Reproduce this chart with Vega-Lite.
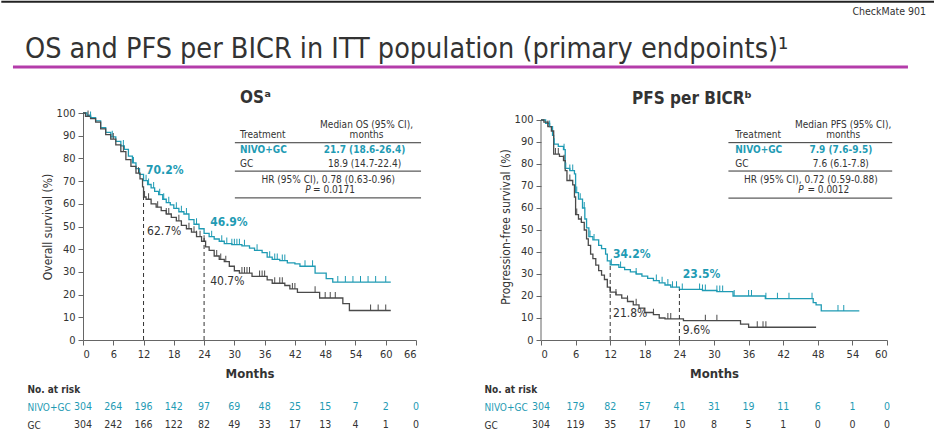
{
  "$schema": "https://vega.github.io/schema/vega-lite/v6.json",
  "padding": 0,
  "spacing": 18,
  "config": {
    "font": "DejaVu Sans Condensed, Open Sans, sans-serif",
    "view": {"stroke": null},
    "axis": {"grid": false, "domainColor": "#666", "tickColor": "#666", "labelColor": "#333", "titleColor": "#333", "labelFontSize": 11, "tickSize": 5, "labelPadding": 3, "titleFontSize": 12, "titleFontWeight": "normal"},
    "axisX": {"titleFontWeight": "bold", "titleFontSize": 13, "labelAngle": 0},
    "title": {"fontSize": 17, "fontWeight": "bold", "color": "#333"}
  },
  "datasets": {
    "osCurve": [
      {"g":"NIVO+GC","m":0,"v":100},{"g":"NIVO+GC","m":0.8,"v":99},{"g":"NIVO+GC","m":1.5,"v":98},{"g":"NIVO+GC","m":2.5,"v":96.5},{"g":"NIVO+GC","m":3.5,"v":93.5},{"g":"NIVO+GC","m":4.5,"v":91.5},{"g":"NIVO+GC","m":5.5,"v":89.5},{"g":"NIVO+GC","m":6.5,"v":87.5},{"g":"NIVO+GC","m":7.5,"v":85.5},{"g":"NIVO+GC","m":8.2,"v":84},{"g":"NIVO+GC","m":9,"v":81},{"g":"NIVO+GC","m":9.8,"v":78},{"g":"NIVO+GC","m":10.5,"v":75.5},{"g":"NIVO+GC","m":11.2,"v":73},{"g":"NIVO+GC","m":12,"v":70.2},{"g":"NIVO+GC","m":12.8,"v":68.5},{"g":"NIVO+GC","m":13.5,"v":67},{"g":"NIVO+GC","m":14.2,"v":65.5},{"g":"NIVO+GC","m":15,"v":64},{"g":"NIVO+GC","m":15.8,"v":62},{"g":"NIVO+GC","m":16.5,"v":60.5},{"g":"NIVO+GC","m":17.3,"v":59.5},{"g":"NIVO+GC","m":18,"v":58},{"g":"NIVO+GC","m":19,"v":56.5},{"g":"NIVO+GC","m":20,"v":55.5},{"g":"NIVO+GC","m":21,"v":53},{"g":"NIVO+GC","m":22,"v":51},{"g":"NIVO+GC","m":23,"v":49},{"g":"NIVO+GC","m":24,"v":47},{"g":"NIVO+GC","m":25,"v":45.5},{"g":"NIVO+GC","m":26,"v":44.5},{"g":"NIVO+GC","m":27,"v":43.5},{"g":"NIVO+GC","m":28,"v":42.5},{"g":"NIVO+GC","m":29.5,"v":42},{"g":"NIVO+GC","m":31.5,"v":41.5},{"g":"NIVO+GC","m":33,"v":40.5},{"g":"NIVO+GC","m":34,"v":39.5},{"g":"NIVO+GC","m":35.5,"v":38.5},{"g":"NIVO+GC","m":36.5,"v":36.5},{"g":"NIVO+GC","m":37.5,"v":35.5},{"g":"NIVO+GC","m":39,"v":35},{"g":"NIVO+GC","m":40.5,"v":34},{"g":"NIVO+GC","m":42,"v":33.5},{"g":"NIVO+GC","m":43,"v":32.5},{"g":"NIVO+GC","m":46,"v":29.5},{"g":"NIVO+GC","m":48.2,"v":27},{"g":"NIVO+GC","m":49.5,"v":25.5},{"g":"NIVO+GC","m":61,"v":25.5},
      {"g":"GC","m":0,"v":100},{"g":"GC","m":0.5,"v":98.5},{"g":"GC","m":1.5,"v":97.5},{"g":"GC","m":2.5,"v":96},{"g":"GC","m":3.5,"v":93},{"g":"GC","m":4.5,"v":90.5},{"g":"GC","m":5.5,"v":88.5},{"g":"GC","m":6.5,"v":86},{"g":"GC","m":7.5,"v":83},{"g":"GC","m":8.5,"v":79.5},{"g":"GC","m":9.5,"v":76.5},{"g":"GC","m":10.5,"v":73.5},{"g":"GC","m":11.3,"v":71},{"g":"GC","m":11.8,"v":67.5},{"g":"GC","m":12,"v":63},{"g":"GC","m":12.5,"v":62},{"g":"GC","m":13.5,"v":60},{"g":"GC","m":14.5,"v":58.5},{"g":"GC","m":15.5,"v":57},{"g":"GC","m":16.5,"v":55.5},{"g":"GC","m":17.5,"v":54},{"g":"GC","m":18.5,"v":52.5},{"g":"GC","m":19.5,"v":50.5},{"g":"GC","m":20.5,"v":49},{"g":"GC","m":21.5,"v":47.5},{"g":"GC","m":22.5,"v":45.5},{"g":"GC","m":23.5,"v":43.5},{"g":"GC","m":24.3,"v":41},{"g":"GC","m":25,"v":39.5},{"g":"GC","m":26,"v":37},{"g":"GC","m":27,"v":35.5},{"g":"GC","m":28,"v":34.5},{"g":"GC","m":29,"v":32.5},{"g":"GC","m":30,"v":30.5},{"g":"GC","m":31,"v":29.5},{"g":"GC","m":33.5,"v":28},{"g":"GC","m":36.5,"v":26.5},{"g":"GC","m":37.5,"v":25},{"g":"GC","m":40,"v":24},{"g":"GC","m":41,"v":22.5},{"g":"GC","m":42.5,"v":21},{"g":"GC","m":46.9,"v":18.5},{"g":"GC","m":51.5,"v":16},{"g":"GC","m":52.8,"v":13},{"g":"GC","m":61,"v":13}
    ],
    "osCens": [
      {"g":"NIVO+GC","m":1.5,"v":98},{"g":"NIVO+GC","m":5.8,"v":89.5},{"g":"NIVO+GC","m":8,"v":85.5},{"g":"NIVO+GC","m":10,"v":78},{"g":"NIVO+GC","m":12.5,"v":70.2},{"g":"NIVO+GC","m":13,"v":68.5},{"g":"NIVO+GC","m":14,"v":67},{"g":"NIVO+GC","m":15.2,"v":64},{"g":"NIVO+GC","m":16,"v":62},{"g":"NIVO+GC","m":17,"v":60.5},{"g":"NIVO+GC","m":18.5,"v":58},{"g":"NIVO+GC","m":19.5,"v":56.5},{"g":"NIVO+GC","m":20.5,"v":55.5},{"g":"NIVO+GC","m":22.5,"v":51},{"g":"NIVO+GC","m":25.5,"v":45.5},{"g":"NIVO+GC","m":27.5,"v":43.5},{"g":"NIVO+GC","m":28.5,"v":42.5},{"g":"NIVO+GC","m":29.5,"v":42},{"g":"NIVO+GC","m":30,"v":42},{"g":"NIVO+GC","m":30.5,"v":42},{"g":"NIVO+GC","m":31,"v":42},{"g":"NIVO+GC","m":32,"v":41.5},{"g":"NIVO+GC","m":34.5,"v":39.5},{"g":"NIVO+GC","m":37,"v":36.5},{"g":"NIVO+GC","m":38,"v":35.5},{"g":"NIVO+GC","m":38.5,"v":35.5},{"g":"NIVO+GC","m":39.5,"v":35},{"g":"NIVO+GC","m":40,"v":35},{"g":"NIVO+GC","m":44,"v":32.5},{"g":"NIVO+GC","m":45.5,"v":32.5},{"g":"NIVO+GC","m":50.5,"v":25.5},{"g":"NIVO+GC","m":52,"v":25.5},{"g":"NIVO+GC","m":53.5,"v":25.5},{"g":"NIVO+GC","m":55,"v":25.5},{"g":"NIVO+GC","m":56.5,"v":25.5},{"g":"NIVO+GC","m":58,"v":25.5},{"g":"NIVO+GC","m":60,"v":25.5},
      {"g":"GC","m":1,"v":98.5},{"g":"GC","m":6,"v":88.5},{"g":"GC","m":8,"v":83},{"g":"GC","m":11,"v":73.5},{"g":"GC","m":12.2,"v":63},{"g":"GC","m":13,"v":62},{"g":"GC","m":14.8,"v":58.5},{"g":"GC","m":16.5,"v":55.5},{"g":"GC","m":17,"v":55.5},{"g":"GC","m":19,"v":52.5},{"g":"GC","m":21,"v":49},{"g":"GC","m":22,"v":47.5},{"g":"GC","m":22.5,"v":45.5},{"g":"GC","m":23.2,"v":45.5},{"g":"GC","m":24,"v":43.5},{"g":"GC","m":26.5,"v":37},{"g":"GC","m":27.3,"v":35.5},{"g":"GC","m":28.3,"v":34.5},{"g":"GC","m":31.5,"v":29.5},{"g":"GC","m":32,"v":29.5},{"g":"GC","m":32.5,"v":29.5},{"g":"GC","m":33,"v":29.5},{"g":"GC","m":35,"v":28},{"g":"GC","m":35.5,"v":28},{"g":"GC","m":36,"v":28},{"g":"GC","m":38,"v":25},{"g":"GC","m":39,"v":25},{"g":"GC","m":39.5,"v":25},{"g":"GC","m":41.5,"v":22.5},{"g":"GC","m":42,"v":22.5},{"g":"GC","m":46,"v":21},{"g":"GC","m":48,"v":18.5},{"g":"GC","m":49,"v":18.5},{"g":"GC","m":50,"v":18.5},{"g":"GC","m":57,"v":13},{"g":"GC","m":58.5,"v":13},{"g":"GC","m":60,"v":13}
    ],
    "pfsCurve": [
      {"g":"NIVO+GC","m":0,"v":100},{"g":"NIVO+GC","m":0.8,"v":98.5},{"g":"NIVO+GC","m":1.5,"v":97},{"g":"NIVO+GC","m":2,"v":93},{"g":"NIVO+GC","m":2.2,"v":89},{"g":"NIVO+GC","m":3,"v":88},{"g":"NIVO+GC","m":3.9,"v":86.5},{"g":"NIVO+GC","m":4.2,"v":78},{"g":"NIVO+GC","m":5,"v":77},{"g":"NIVO+GC","m":5.8,"v":75.5},{"g":"NIVO+GC","m":6,"v":67},{"g":"NIVO+GC","m":6.5,"v":64},{"g":"NIVO+GC","m":7.2,"v":60},{"g":"NIVO+GC","m":7.6,"v":55},{"g":"NIVO+GC","m":7.9,"v":51},{"g":"NIVO+GC","m":8.3,"v":47},{"g":"NIVO+GC","m":9,"v":45.5},{"g":"NIVO+GC","m":10,"v":43},{"g":"NIVO+GC","m":10.5,"v":41.5},{"g":"NIVO+GC","m":11.2,"v":39},{"g":"NIVO+GC","m":11.5,"v":36},{"g":"NIVO+GC","m":12,"v":34.2},{"g":"NIVO+GC","m":13.5,"v":33},{"g":"NIVO+GC","m":14.5,"v":32},{"g":"NIVO+GC","m":15.5,"v":31},{"g":"NIVO+GC","m":16.5,"v":30},{"g":"NIVO+GC","m":17.5,"v":29},{"g":"NIVO+GC","m":18.5,"v":28},{"g":"NIVO+GC","m":19.5,"v":27},{"g":"NIVO+GC","m":20.5,"v":26},{"g":"NIVO+GC","m":21.5,"v":25},{"g":"NIVO+GC","m":22.5,"v":24},{"g":"NIVO+GC","m":24,"v":23},{"g":"NIVO+GC","m":28,"v":22.5},{"g":"NIVO+GC","m":30.5,"v":22},{"g":"NIVO+GC","m":33.3,"v":20},{"g":"NIVO+GC","m":38.9,"v":18.8},{"g":"NIVO+GC","m":47.2,"v":17},{"g":"NIVO+GC","m":47.7,"v":16},{"g":"NIVO+GC","m":48.6,"v":13.2},{"g":"NIVO+GC","m":55.2,"v":13.2},
      {"g":"GC","m":0,"v":100},{"g":"GC","m":0.5,"v":99},{"g":"GC","m":1.2,"v":97},{"g":"GC","m":1.8,"v":95},{"g":"GC","m":2.2,"v":84.5},{"g":"GC","m":3.2,"v":83.5},{"g":"GC","m":3.9,"v":81.5},{"g":"GC","m":4.2,"v":77},{"g":"GC","m":4.5,"v":72.5},{"g":"GC","m":5.5,"v":70.5},{"g":"GC","m":5.8,"v":65},{"g":"GC","m":6,"v":57},{"g":"GC","m":6.5,"v":55},{"g":"GC","m":7,"v":53.5},{"g":"GC","m":7.5,"v":50},{"g":"GC","m":7.9,"v":46},{"g":"GC","m":8.2,"v":43},{"g":"GC","m":8.6,"v":39},{"g":"GC","m":9,"v":37},{"g":"GC","m":9.5,"v":34},{"g":"GC","m":10,"v":31.5},{"g":"GC","m":10.5,"v":29.5},{"g":"GC","m":11,"v":27.5},{"g":"GC","m":11.5,"v":24},{"g":"GC","m":12,"v":21.8},{"g":"GC","m":13,"v":20.5},{"g":"GC","m":14,"v":19},{"g":"GC","m":15,"v":17.5},{"g":"GC","m":16,"v":16},{"g":"GC","m":17,"v":14.5},{"g":"GC","m":18,"v":12.5},{"g":"GC","m":19.5,"v":11.5},{"g":"GC","m":20.5,"v":10},{"g":"GC","m":21.5,"v":9.6},{"g":"GC","m":24.7,"v":8.8},{"g":"GC","m":34.6,"v":7.2},{"g":"GC","m":36,"v":5.8},{"g":"GC","m":47.7,"v":5.8}
    ],
    "pfsCens": [
      {"g":"NIVO+GC","m":1.5,"v":97},{"g":"NIVO+GC","m":2.3,"v":89},{"g":"NIVO+GC","m":4,"v":86.5},{"g":"NIVO+GC","m":4.3,"v":78},{"g":"NIVO+GC","m":5,"v":77},{"g":"NIVO+GC","m":5.5,"v":77},{"g":"NIVO+GC","m":6.2,"v":67},{"g":"NIVO+GC","m":6.8,"v":64},{"g":"NIVO+GC","m":7.5,"v":60},{"g":"NIVO+GC","m":8.5,"v":47},{"g":"NIVO+GC","m":9.2,"v":45.5},{"g":"NIVO+GC","m":12.2,"v":34.2},{"g":"NIVO+GC","m":13.8,"v":33},{"g":"NIVO+GC","m":16.5,"v":30},{"g":"NIVO+GC","m":20,"v":27},{"g":"NIVO+GC","m":21,"v":26},{"g":"NIVO+GC","m":22,"v":25},{"g":"NIVO+GC","m":22.8,"v":24},{"g":"NIVO+GC","m":23.5,"v":24},{"g":"NIVO+GC","m":24.5,"v":23},{"g":"NIVO+GC","m":27.5,"v":23},{"g":"NIVO+GC","m":28,"v":22.5},{"g":"NIVO+GC","m":28.5,"v":22.5},{"g":"NIVO+GC","m":30.5,"v":22},{"g":"NIVO+GC","m":31,"v":22},{"g":"NIVO+GC","m":31.5,"v":22},{"g":"NIVO+GC","m":33.5,"v":20},{"g":"NIVO+GC","m":36,"v":20},{"g":"NIVO+GC","m":36.5,"v":20},{"g":"NIVO+GC","m":39,"v":18.8},{"g":"NIVO+GC","m":41,"v":18.8},{"g":"NIVO+GC","m":43,"v":18.8},{"g":"NIVO+GC","m":47,"v":18.8},{"g":"NIVO+GC","m":51.5,"v":13.2},{"g":"NIVO+GC","m":52.5,"v":13.2},
      {"g":"GC","m":1.2,"v":97},{"g":"GC","m":2.5,"v":84.5},{"g":"GC","m":3,"v":84.5},{"g":"GC","m":4,"v":81.5},{"g":"GC","m":5,"v":72.5},{"g":"GC","m":6.2,"v":57},{"g":"GC","m":7,"v":53.5},{"g":"GC","m":13,"v":20.5},{"g":"GC","m":15,"v":17.5},{"g":"GC","m":16.5,"v":16},{"g":"GC","m":19.5,"v":11.5},{"g":"GC","m":22,"v":9.6},{"g":"GC","m":22.5,"v":9.6},{"g":"GC","m":28.5,"v":8.8},{"g":"GC","m":30.5,"v":8.8},{"g":"GC","m":37.5,"v":5.8},{"g":"GC","m":38.5,"v":5.8},{"g":"GC","m":39,"v":5.8}
    ],
    "osRisk": [
      {"g":"NIVO+GC","m":0,"n":304},{"g":"NIVO+GC","m":6,"n":264},{"g":"NIVO+GC","m":12,"n":196},{"g":"NIVO+GC","m":18,"n":142},{"g":"NIVO+GC","m":24,"n":97},{"g":"NIVO+GC","m":30,"n":69},{"g":"NIVO+GC","m":36,"n":48},{"g":"NIVO+GC","m":42,"n":25},{"g":"NIVO+GC","m":48,"n":15},{"g":"NIVO+GC","m":54,"n":7},{"g":"NIVO+GC","m":60,"n":2},{"g":"NIVO+GC","m":66,"n":0},
      {"g":"GC","m":0,"n":304},{"g":"GC","m":6,"n":242},{"g":"GC","m":12,"n":166},{"g":"GC","m":18,"n":122},{"g":"GC","m":24,"n":82},{"g":"GC","m":30,"n":49},{"g":"GC","m":36,"n":33},{"g":"GC","m":42,"n":17},{"g":"GC","m":48,"n":13},{"g":"GC","m":54,"n":4},{"g":"GC","m":60,"n":1},{"g":"GC","m":66,"n":0}
    ],
    "pfsRisk": [
      {"g":"NIVO+GC","m":0,"n":304},{"g":"NIVO+GC","m":6,"n":179},{"g":"NIVO+GC","m":12,"n":82},{"g":"NIVO+GC","m":18,"n":57},{"g":"NIVO+GC","m":24,"n":41},{"g":"NIVO+GC","m":30,"n":31},{"g":"NIVO+GC","m":36,"n":19},{"g":"NIVO+GC","m":42,"n":11},{"g":"NIVO+GC","m":48,"n":6},{"g":"NIVO+GC","m":54,"n":1},{"g":"NIVO+GC","m":60,"n":0},
      {"g":"GC","m":0,"n":304},{"g":"GC","m":6,"n":119},{"g":"GC","m":12,"n":35},{"g":"GC","m":18,"n":17},{"g":"GC","m":24,"n":10},{"g":"GC","m":30,"n":8},{"g":"GC","m":36,"n":5},{"g":"GC","m":42,"n":1},{"g":"GC","m":48,"n":0},{"g":"GC","m":54,"n":0},{"g":"GC","m":60,"n":0}
    ]
  },
  "vconcat": [
    {
      "width": 851,
      "height": 70,
      "encoding": {
        "x": {"field": "x", "type": "quantitative", "scale": {"domain": [0, 1], "nice": false}, "axis": null},
        "y": {"field": "y", "type": "quantitative", "scale": {"domain": [0, 1], "nice": false, "reverse": true}, "axis": null}
      },
      "layer": [
        {"data": {"values": [{"x": -0.096, "x2": 1.0, "y": 0.012}]}, "mark": {"type": "rule", "color": "#222", "strokeWidth": 2}, "encoding": {"x2": {"field": "x2"}}},
        {"data": {"values": [{"x": -0.0823, "x2": 0.9694, "y": 0.943}]}, "mark": {"type": "rule", "color": "#b43caa", "strokeWidth": 3}, "encoding": {"x2": {"field": "x2"}}},
        {"data": {"values": [{"x": 0.9906, "y": 0.2, "t": "CheckMate 901"}]}, "mark": {"type": "text", "align": "right", "baseline": "alphabetic", "fontSize": 10.5, "color": "#333"}, "encoding": {"text": {"field": "t"}}},
        {"data": {"values": [{"x": -0.0682, "y": 0.814, "t": "OS and PFS per BICR in ITT population (primary endpoints)¹"}]}, "mark": {"type": "text", "align": "left", "baseline": "alphabetic", "fontSize": 28.5, "color": "#333"}, "encoding": {"text": {"field": "t"}}}
      ]
    },
    {
      "spacing": 62,
      "hconcat": [
        {
          "spacing": 0,
          "vconcat": [
            {
              "width": 333,
              "height": 227,
              "title": {"text": "OSᵃ", "offset": 0, "dx": 6},
              "encoding": {
                "x": {"field": "m", "type": "quantitative", "scale": {"domain": [0, 66], "nice": false, "zero": false}, "axis": {"values": [0,6,12,18,24,30,36,42,48,54,60,66], "title": "Months", "titlePadding": 8}},
                "y": {"field": "v", "type": "quantitative", "scale": {"domain": [0, 100], "nice": false}, "axis": {"values": [0,10,20,30,40,50,60,70,80,90,100], "title": "Overall survival (%)", "titlePadding": 2}}
              },
              "layer": [
                {"data": {"name": "osCurve"}, "mark": {"type": "line", "interpolate": "step-after", "strokeWidth": 1.3}, "encoding": {"color": {"field": "g", "type": "nominal", "scale": {"domain": ["NIVO+GC", "GC"], "range": ["#1f9bb4", "#4a4a4a"]}, "legend": null}}},
                {"data": {"name": "osCens"}, "mark": {"type": "tick", "orient": "vertical", "size": 6, "thickness": 1, "opacity": 1, "yOffset": -3}, "encoding": {"color": {"field": "g", "type": "nominal", "scale": {"domain": ["NIVO+GC", "GC"], "range": ["#1f9bb4", "#4a4a4a"]}, "legend": null}}},
                {"data": {"values": [{"m": 12, "v": 0, "v2": 63}, {"m": 24, "v": 0, "v2": 46}]}, "mark": {"type": "rule", "strokeDash": [4, 3], "color": "#333", "strokeWidth": 1}, "encoding": {"y2": {"field": "v2"}}},
                {"data": {"values": [{"m": 30.1, "m2": 67, "v": 86.9}, {"m": 30.1, "m2": 67, "v": 74.4}, {"m": 30.1, "m2": 67, "v": 62.6}]}, "mark": {"type": "rule", "color": "#333", "strokeWidth": 1}, "encoding": {"x2": {"field": "m2"}}},
                {"data": {"values": [{"m": 56.2, "v": 94.7, "t": "Median OS (95% CI),"}, {"m": 56.2, "v": 90.2, "t": "months"}, {"m": 55.8, "v": 77.4, "t": "18.9 (14.7-22.4)"}, {"m": 48.6, "v": 70.5, "t": "HR (95% CI), 0.78 (0.63-0.96)"}]}, "mark": {"type": "text", "align": "center", "baseline": "middle", "fontSize": 10, "color": "#333"}, "encoding": {"text": {"field": "t"}}},
                {"data": {"values": [{"m": 31.1, "v": 90.2, "t": "Treatment"}, {"m": 31.1, "v": 77.4, "t": "GC"}, {"m": 45.6, "v": 66.1, "t": "= 0.0171"}]}, "mark": {"type": "text", "align": "left", "baseline": "middle", "fontSize": 10, "color": "#333"}, "encoding": {"text": {"field": "t"}}},
                {"data": {"values": [{"m": 44.6, "v": 66.1, "t": "P"}]}, "mark": {"type": "text", "align": "center", "baseline": "middle", "fontSize": 10, "fontStyle": "italic", "color": "#333"}, "encoding": {"text": {"field": "t"}}},
                {"data": {"values": [{"m": 31.1, "v": 83.7, "t": "NIVO+GC"}]}, "mark": {"type": "text", "align": "left", "baseline": "middle", "fontSize": 10, "fontWeight": "bold", "color": "#1f9bb4"}, "encoding": {"text": {"field": "t"}}},
                {"data": {"values": [{"m": 55.8, "v": 83.7, "t": "21.7 (18.6-26.4)"}]}, "mark": {"type": "text", "align": "center", "baseline": "middle", "fontSize": 10, "fontWeight": "bold", "color": "#1f9bb4"}, "encoding": {"text": {"field": "t"}}},
                {"data": {"values": [{"m": 12.5, "v": 74.9, "t": "70.2%"}, {"m": 25.2, "v": 52, "t": "46.9%"}]}, "mark": {"type": "text", "align": "left", "baseline": "middle", "fontSize": 12, "fontWeight": "bold", "color": "#1f9bb4"}, "encoding": {"text": {"field": "t"}}},
                {"data": {"values": [{"m": 12.7, "v": 48, "t": "62.7%"}, {"m": 25.2, "v": 26, "t": "40.7%"}]}, "mark": {"type": "text", "align": "left", "baseline": "middle", "fontSize": 12, "color": "#333"}, "encoding": {"text": {"field": "t"}}}
              ]
            },
            {
              "width": 333,
              "height": 54,
              "data": {"name": "osRisk"},
              "encoding": {
                "x": {"field": "m", "type": "quantitative", "scale": {"domain": [0, 66], "nice": false}, "axis": null},
                "y": {"field": "g", "type": "nominal", "scale": {"type": "point", "domain": ["No. at risk", "NIVO+GC", "GC"], "padding": 0.5},
                      "axis": {"title": null, "domain": false, "ticks": false, "tickSize": 0, "labelAlign": "left", "labelPadding": 56, "labelFontSize": 10,
                               "labelFont": "Liberation Sans Narrow, DejaVu Sans Condensed, sans-serif",
                               "labelColor": {"condition": {"test": "datum.value === 'NIVO+GC'", "value": "#1f9bb4"}, "value": "#333"},
                               "labelFontWeight": {"condition": {"test": "datum.value === 'No. at risk'", "value": "bold"}, "value": "normal"}}},
                "text": {"field": "n", "type": "quantitative"}
              },
              "layer": [
                {"transform": [{"filter": "datum.g === 'NIVO+GC'"}], "mark": {"type": "text", "fontSize": 10.5, "color": "#1f9bb4"}},
                {"transform": [{"filter": "datum.g === 'GC'"}], "mark": {"type": "text", "fontSize": 10.5, "color": "#333"}}
              ]
            }
          ]
        },
        {
          "spacing": 0,
          "vconcat": [
            {
              "width": 346,
              "height": 227,
              "title": {"text": "PFS per BICRᵇ", "offset": 5, "dx": -22},
              "encoding": {
                "x": {"field": "m", "type": "quantitative", "scale": {"domain": [0, 60], "nice": false, "zero": false}, "axis": {"values": [0,6,12,18,24,30,36,42,48,54,60], "title": "Months", "titlePadding": 8}},
                "y": {"field": "v", "type": "quantitative", "scale": {"domain": [0, 103.18], "nice": false}, "axis": {"values": [0,10,20,30,40,50,60,70,80,90,100], "title": "Progression-free survival (%)", "titlePadding": 2, "domain": false}}
              },
              "layer": [
                {"data": {"values": [{"m": 0, "v": 0, "v2": 100}]}, "mark": {"type": "rule", "color": "#666", "strokeWidth": 1}, "encoding": {"y2": {"field": "v2"}}},
                {"data": {"name": "pfsCurve"}, "mark": {"type": "line", "interpolate": "step-after", "strokeWidth": 1.3}, "encoding": {"color": {"field": "g", "type": "nominal", "scale": {"domain": ["NIVO+GC", "GC"], "range": ["#1f9bb4", "#4a4a4a"]}, "legend": null}}},
                {"data": {"name": "pfsCens"}, "mark": {"type": "tick", "orient": "vertical", "size": 6, "thickness": 1, "opacity": 1, "yOffset": -3}, "encoding": {"color": {"field": "g", "type": "nominal", "scale": {"domain": ["NIVO+GC", "GC"], "range": ["#1f9bb4", "#4a4a4a"]}, "legend": null}}},
                {"data": {"values": [{"m": 12, "v": 0, "v2": 35}, {"m": 24, "v": 0, "v2": 23}]}, "mark": {"type": "rule", "strokeDash": [4, 3], "color": "#333", "strokeWidth": 1}, "encoding": {"y2": {"field": "v2"}}},
                {"data": {"values": [{"m": 32.5, "m2": 60.9, "v": 89.7}, {"m": 32.5, "m2": 60.9, "v": 76.8}, {"m": 32.5, "m2": 60.9, "v": 64.5}]}, "mark": {"type": "rule", "color": "#333", "strokeWidth": 1}, "encoding": {"x2": {"field": "m2"}}},
                {"data": {"values": [{"m": 52.4, "v": 97.7, "t": "Median PFS (95% CI),"}, {"m": 52.4, "v": 93, "t": "months"}, {"m": 52, "v": 79.9, "t": "7.6 (6.1-7.8)"}, {"m": 46.8, "v": 72.7, "t": "HR (95% CI), 0.72 (0.59-0.88)"}]}, "mark": {"type": "text", "align": "center", "baseline": "middle", "fontSize": 10, "color": "#333"}, "encoding": {"text": {"field": "t"}}},
                {"data": {"values": [{"m": 33.7, "v": 93, "t": "Treatment"}, {"m": 33.7, "v": 79.9, "t": "GC"}, {"m": 46.2, "v": 68.2, "t": "= 0.0012"}]}, "mark": {"type": "text", "align": "left", "baseline": "middle", "fontSize": 10, "color": "#333"}, "encoding": {"text": {"field": "t"}}},
                {"data": {"values": [{"m": 45.1, "v": 68.2, "t": "P"}]}, "mark": {"type": "text", "align": "center", "baseline": "middle", "fontSize": 10, "fontStyle": "italic", "color": "#333"}, "encoding": {"text": {"field": "t"}}},
                {"data": {"values": [{"m": 33.7, "v": 86.4, "t": "NIVO+GC"}]}, "mark": {"type": "text", "align": "left", "baseline": "middle", "fontSize": 10, "fontWeight": "bold", "color": "#1f9bb4"}, "encoding": {"text": {"field": "t"}}},
                {"data": {"values": [{"m": 52, "v": 86.4, "t": "7.9 (7.6-9.5)"}]}, "mark": {"type": "text", "align": "center", "baseline": "middle", "fontSize": 10, "fontWeight": "bold", "color": "#1f9bb4"}, "encoding": {"text": {"field": "t"}}},
                {"data": {"values": [{"m": 12.5, "v": 39, "t": "34.2%"}, {"m": 24.6, "v": 30, "t": "23.5%"}]}, "mark": {"type": "text", "align": "left", "baseline": "middle", "fontSize": 12, "fontWeight": "bold", "color": "#1f9bb4"}, "encoding": {"text": {"field": "t"}}},
                {"data": {"values": [{"m": 12.5, "v": 12.3, "t": "21.8%"}, {"m": 24.6, "v": 4.5, "t": "9.6%"}]}, "mark": {"type": "text", "align": "left", "baseline": "middle", "fontSize": 12, "color": "#333"}, "encoding": {"text": {"field": "t"}}}
              ]
            },
            {
              "width": 346,
              "height": 54,
              "data": {"name": "pfsRisk"},
              "encoding": {
                "x": {"field": "m", "type": "quantitative", "scale": {"domain": [0, 60], "nice": false}, "axis": null},
                "y": {"field": "g", "type": "nominal", "scale": {"type": "point", "domain": ["No. at risk", "NIVO+GC", "GC"], "padding": 0.5},
                      "axis": {"title": null, "domain": false, "ticks": false, "tickSize": 0, "labelAlign": "left", "labelPadding": 57, "labelFontSize": 10,
                               "labelFont": "Liberation Sans Narrow, DejaVu Sans Condensed, sans-serif",
                               "labelColor": {"condition": {"test": "datum.value === 'NIVO+GC'", "value": "#1f9bb4"}, "value": "#333"},
                               "labelFontWeight": {"condition": {"test": "datum.value === 'No. at risk'", "value": "bold"}, "value": "normal"}}},
                "text": {"field": "n", "type": "quantitative"}
              },
              "layer": [
                {"transform": [{"filter": "datum.g === 'NIVO+GC'"}], "mark": {"type": "text", "fontSize": 10.5, "color": "#1f9bb4"}},
                {"transform": [{"filter": "datum.g === 'GC'"}], "mark": {"type": "text", "fontSize": 10.5, "color": "#333"}}
              ]
            }
          ]
        }
      ]
    }
  ]
}
